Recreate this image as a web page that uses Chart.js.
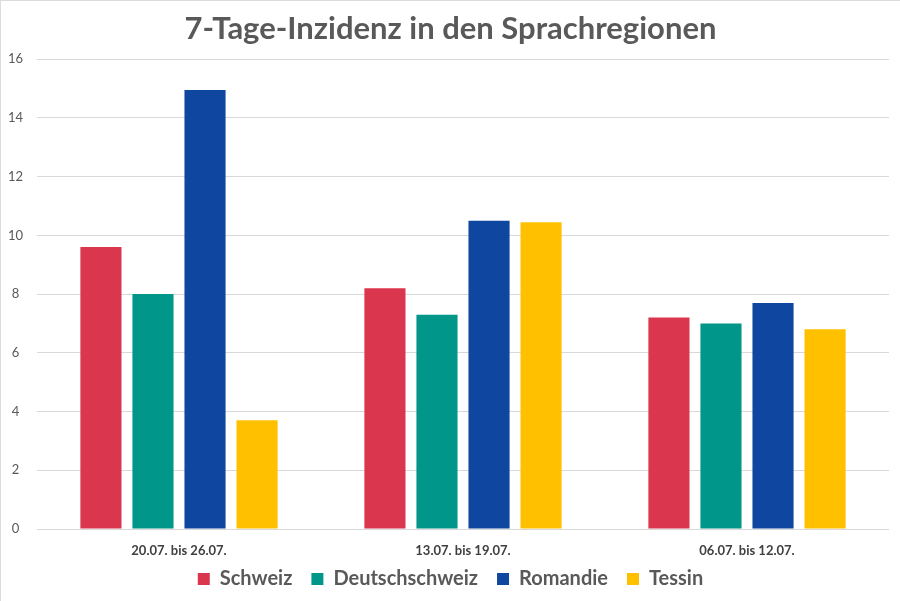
<!DOCTYPE html>
<html>
<head>
<meta charset="utf-8">
<script src="https://cdn.jsdelivr.net/npm/chart.js@4"></script>
<style>
html,body{margin:0;padding:0;background:#fff;}
#wrap{width:899px;height:600px;border-top:1px solid #dcdcdc;border-left:1px solid #dcdcdc;}
canvas{display:block;}
</style>
</head>
<body>
<div id="wrap"><canvas id="c" width="899" height="600"></canvas></div>
<script>
const categories = ["20.07. bis 26.07.", "13.07. bis 19.07.", "06.07. bis 12.07."];
const schweiz = [9.6, 8.2, 7.2];
const deutschschweiz = [8.0, 7.3, 7.0];
const romandie = [14.95, 10.5, 7.7];
const tessin = [3.7, 10.45, 6.8];
const seriesNames = ["Schweiz", "Deutschschweiz", "Romandie", "Tessin"];
const seriesColors = ["#DA374E", "#00978A", "#0F46A0", "#FFC000"];
const yTicks = [0, 2, 4, 6, 8, 10, 12, 14, 16];

const seriesValues = [schweiz, deutschschweiz, romandie, tessin];
const FONT = "Lato, 'Open Sans', sans-serif";

new Chart(document.getElementById('c'), {
  type: 'bar',
  data: {
    labels: categories,
    datasets: seriesNames.map((n, i) => ({
      label: n,
      data: seriesValues[i],
      backgroundColor: seriesColors[i],
      borderWidth: 0,
      categoryPercentage: 0.733,
      barPercentage: 0.79
    }))
  },
  options: {
    responsive: false,
    animation: false,
    layout: { padding: { left: 0, right: 0, top: 9, bottom: 2 } },
    plugins: {
      title: {
        display: true,
        text: "7-Tage-Inzidenz in den Sprachregionen",
        color: '#595959',
        font: { family: FONT, size: 31, weight: 'bold' },
        padding: { top: 0, bottom: 12 }
      },
      legend: {
        position: 'bottom',
        title: {
          display: true,
          text: '',
          font: { size: 10, lineHeight: 1 },
          padding: { top: -17, bottom: 0 }
        },
        labels: {
          color: '#595959',
          font: { family: FONT, size: 20, weight: 'bold' },
          boxWidth: 12,
          boxHeight: 12,
          padding: 19
        }
      },
      tooltip: { enabled: false }
    },
    scales: {
      x: {
        afterFit: (axis) => { axis.height = 28; },
        grid: { display: false },
        border: { display: false },
        ticks: {
          color: '#404040',
          font: { family: FONT, size: 13, weight: 'bold' },
          padding: 6
        }
      },
      y: {
        min: 0,
        max: 16,
        afterBuildTicks: (axis) => { axis.ticks = yTicks.map(v => ({ value: v })); },
        afterFit: (axis) => { axis.width = 36; },
        grid: { color: '#d9d9d9', lineWidth: 1, drawTicks: false },
        border: { display: false },
        ticks: {
          color: '#595959',
          font: { family: FONT, size: 13 },
          padding: 14,
          crossAlign: 'center'
        }
      },
      yRight: {
        position: 'right',
        display: true,
        afterFit: (axis) => { axis.width = 11; },
        grid: { display: false },
        border: { display: false },
        ticks: { display: false }
      }
    }
  }
});
</script>
</body>
</html>
